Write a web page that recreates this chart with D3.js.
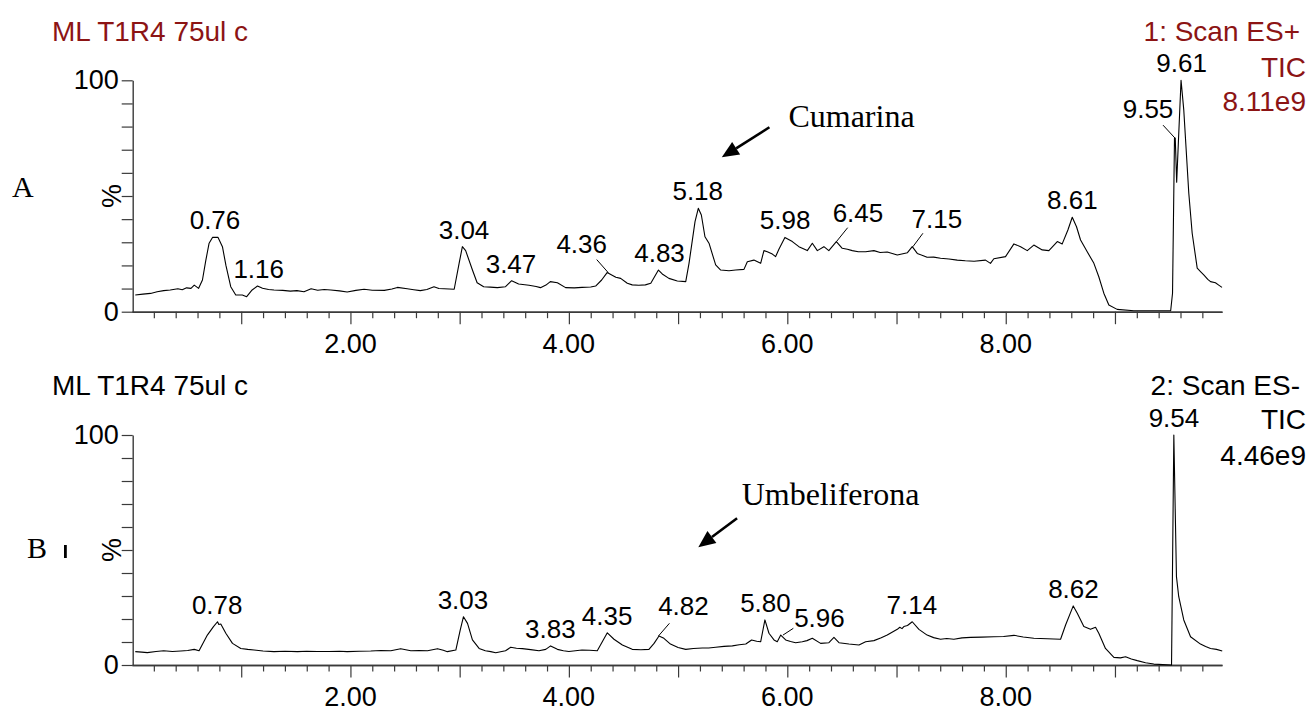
<!DOCTYPE html>
<html>
<head>
<meta charset="utf-8">
<script src="https://cdn.jsdelivr.net/npm/d3@7/dist/d3.min.js"></script>
<style>
  body { margin: 0; background: #fff; }
  svg { display: block; font-family: "Liberation Sans", Arial, sans-serif; }
</style>
</head>
<body>
<div id="chart"></div>
<script>
const width = 1310;
const height = 711;
const red = "#8c1414";

// axis values
const xMajor = [1, 2, 3, 4, 5, 6, 7, 8, 9];
const xMinor = [0.2,0.4,0.6,0.8,1.2,1.4,1.6,1.8,2.2,2.4,2.6,2.8,3.2,3.4,3.6,3.8,4.2,4.4,4.6,4.8,
                5.2,5.4,5.6,5.8,6.2,6.4,6.6,6.8,7.2,7.4,7.6,7.8,8.2,8.4,8.6,8.8,9.2,9.4,9.6,9.8];
const xTickLabels = [2, 4, 6, 8];
const yTicks = [0, 10, 20, 30, 40, 50, 60, 70, 80, 90, 100];

// chromatogram A (ES+), [time min, %]
const traceA = [
  [0.03,7.2],[0.10,7.6],[0.17,7.9],[0.23,8.6],[0.29,9.1],[0.35,9.4],[0.42,9.9],[0.46,9.5],[0.50,10.3],
  [0.54,10.1],[0.57,11.5],[0.61,10.1],[0.645,13.7],[0.675,22],[0.706,29.6],[0.737,32.1],[0.788,32.1],
  [0.828,28.1],[0.86,20],[0.904,10.8],[0.95,7.2],[1.01,7.2],[1.05,6.5],[1.10,9.4],[1.149,11.1],
  [1.195,10.1],[1.25,9.6],[1.30,9.4],[1.38,9.2],[1.45,8.9],[1.51,9.1],[1.575,8.6],[1.64,9.9],[1.70,9.3],
  [1.76,9.6],[1.82,9.4],[1.90,9.0],[1.97,8.5],[2.05,9.2],[2.125,9.7],[2.20,9.3],[2.31,9.2],[2.38,9.8],
  [2.43,10.5],[2.52,9.9],[2.58,9.5],[2.64,9.1],[2.70,9.6],[2.765,10.8],[2.81,10.0],[2.857,9.9],[2.95,9.7],
  [2.995,20.9],[3.025,28.1],[3.055,26.4],[3.117,18.0],[3.16,12.5],[3.22,10.8],[3.28,10.6],[3.345,10.4],
  [3.42,10.8],[3.476,13.4],[3.54,12.0],[3.635,11.4],[3.70,10.9],[3.74,10.4],[3.79,11.5],[3.83,13.0],
  [3.895,12.5],[3.97,10.4],[4.05,10.3],[4.12,10.5],[4.20,10.7],[4.245,11.1],[4.30,13.7],[4.35,16.9],
  [4.43,14.9],[4.474,14.4],[4.535,12.3],[4.58,11.6],[4.64,11.4],[4.70,11.6],[4.75,12.3],[4.82,18.0],
  [4.855,16.3],[4.916,14.4],[4.993,13.3],[5.07,13.0],[5.10,20.9],[5.155,38.9],[5.185,44.7],[5.213,41.8],
  [5.246,32.4],[5.283,29.6],[5.344,20.2],[5.39,18.0],[5.466,17.7],[5.527,18.0],[5.603,18.3],[5.634,21.6],
  [5.694,22.3],[5.756,20.9],[5.786,26.4],[5.817,25.9],[5.863,24.9],[5.893,23.8],[5.923,27.0],[5.978,32.1],
  [6.046,30.3],[6.106,28.1],[6.183,26.4],[6.229,29.6],[6.275,26.4],[6.335,28.1],[6.38,26.4],[6.449,30.3],
  [6.503,27.4],[6.55,27.0],[6.595,26.4],[6.65,25.9],[6.717,25.9],[6.793,26.4],[6.85,25.6],[6.915,25.8],
  [7.007,24.5],[7.10,25.5],[7.144,28.1],[7.19,25.2],[7.28,23.5],[7.34,23.6],[7.403,23.1],[7.48,22.8],
  [7.556,22.3],[7.63,22.0],[7.71,21.8],[7.815,22.3],[7.86,20.9],[7.891,22.9],[7.998,23.8],[8.075,29.3],
  [8.136,28.1],[8.197,26.4],[8.257,28.8],[8.334,26.7],[8.395,26.4],[8.472,30.3],[8.517,29.3],[8.569,35.3],
  [8.609,40.8],[8.648,36.7],[8.685,31.0],[8.746,25.9],[8.807,20.9],[8.852,15.1],[8.898,8.0],[8.944,2.9],
  [9.02,1.0],[9.173,0.4],[9.51,0.4],[9.527,8],[9.545,75],[9.552,75],[9.565,56],[9.605,100],[9.63,87.2],
  [9.676,51.2],[9.707,33.9],[9.753,18.8],[9.79,17.0],[9.813,15.9],[9.85,14.0],[9.875,13.0],[9.92,12.5],
  [9.95,11.5],[9.98,10.5]
];

// chromatogram B (ES-), [time min, %]
const traceB = [
  [0.03,5.8],[0.09,5.6],[0.14,5.4],[0.22,5.9],[0.29,6.2],[0.37,5.9],[0.447,6.1],[0.51,6.3],[0.57,6.8],
  [0.614,6.2],[0.65,9.5],[0.69,13.0],[0.746,16.7],[0.783,18.8],[0.795,17.6],[0.813,17.8],[0.859,13.8],
  [0.92,9.4],[0.996,7.2],[1.06,6.8],[1.118,6.5],[1.20,6.1],[1.30,5.8],[1.40,6.0],[1.515,5.8],[1.60,6.0],
  [1.70,5.9],[1.80,5.9],[1.90,6.0],[1.97,5.8],[2.08,6.0],[2.186,6.1],[2.28,6.3],[2.37,6.2],[2.46,7.1],
  [2.553,6.2],[2.63,6.3],[2.706,6.2],[2.797,7.1],[2.85,6.4],[2.888,5.8],[2.965,6.5],[3.005,15.2],
  [3.035,21.0],[3.072,18.1],[3.117,10.9],[3.178,7.2],[3.235,6.2],[3.285,5.8],[3.33,5.3],[3.42,6.2],
  [3.467,7.7],[3.52,7.3],[3.574,7.1],[3.65,6.7],[3.726,6.2],[3.788,6.8],[3.833,8.3],[3.895,6.8],[3.95,6.2],
  [4.0,5.9],[4.06,6.2],[4.12,6.5],[4.19,6.4],[4.26,6.2],[4.306,10.1],[4.352,14.0],[4.413,11.2],[4.49,8.7],
  [4.58,6.8],[4.66,6.6],[4.733,6.8],[4.78,9.4],[4.825,12.6],[4.87,11.6],[4.93,9.1],[5.0,7.6],[5.07,6.8],
  [5.14,7.2],[5.222,7.4],[5.28,7.4],[5.344,7.7],[5.42,8.1],[5.497,8.3],[5.56,8.8],[5.62,9.1],[5.673,10.9],
  [5.72,10.3],[5.756,10.1],[5.795,19.6],[5.832,13.8],[5.878,10.9],[5.908,10.1],[5.94,13.0],[5.985,10.9],
  [6.03,10.2],[6.076,9.7],[6.137,10.1],[6.18,10.6],[6.229,11.6],[6.305,9.4],[6.381,9.7],[6.427,12.0],
  [6.473,9.7],[6.564,9.1],[6.656,8.7],[6.717,10.1],[6.793,10.6],[6.86,11.8],[6.915,13.0],[7.007,15.5],
  [7.03,16.4],[7.05,15.8],[7.067,16.7],[7.10,17.2],[7.144,18.8],[7.205,15.5],[7.28,13.0],[7.34,11.9],
  [7.403,11.2],[7.46,11.5],[7.525,11.2],[7.60,11.8],[7.678,12.0],[7.78,12.1],[7.891,12.3],[7.98,12.4],
  [8.075,12.9],[8.16,12.2],[8.257,11.6],[8.38,11.4],[8.502,11.2],[8.548,17.4],[8.618,25.7],[8.655,22.5],
  [8.715,16.7],[8.776,15.5],[8.822,16.4],[8.852,13.8],[8.913,7.2],[8.99,3.3],[9.05,3.1],[9.097,3.6],
  [9.15,2.6],[9.204,1.9],[9.28,1.0],[9.356,0.4],[9.518,0],[9.539,100],[9.563,38.4],[9.584,29.7],
  [9.63,19.6],[9.692,12.3],[9.783,9.1],[9.83,8.0],[9.875,7.2],[9.93,6.8],[9.982,6.1]
];

// labelled retention times
const peaksA = [0.76, 1.16, 3.04, 3.47, 4.36, 4.83, 5.18, 5.98, 6.45, 7.15, 8.61, 9.55, 9.61];
const peaksB = [0.78, 3.03, 3.83, 4.35, 4.82, 5.80, 5.96, 7.14, 8.62, 9.54];

// header texts
const titleText = "ML T1R4 75ul c";
const scanA = ["1: Scan ES+", "TIC", "8.11e9"];
const scanB = ["2: Scan ES-", "TIC", "4.46e9"];

// compound annotations: [text, text t, text %, arrow start t, start %, tip t, tip %]
const noteA = ["Cumarina", 6.01, 79.7, 5.836, 79.7, 5.40, 66.7];
const noteB = ["Umbeliferona", 5.582, 69.6, 5.54, 63.8, 5.185, 51.2];

// labels that sit off the peak with a leader line (pixel offsets)
const leaders = {
  "A4.36": {lx: -26.5, ly: -20, ex: -11.5, ey: -13},
  "A6.45": {lx: 21.5, ly: -19.6, ex: 11.2, ey: -13.9},
  "A7.15": {lx: 24, ly: -19, ex: 10, ey: -13.4},
  "A9.55": {lx: -27, ly: -20, ex: -12, ey: -13},
  "B4.82": {lx: 25, ly: -21, ex: 11, ey: -12.7},
  "B5.96": {lx: 36.5, ly: -8.4, ex: 10.4, ey: -6.8}
};

const svg = d3.select("#chart")
  .append("svg")
  .attr("width", width)
  .attr("height", height);

const x = d3.scaleLinear().domain([0, 9.98]).range([132, 1222]);

const panels = [
  {id: "A", trace: traceA, peaks: peaksA, top: 80.3, bottom: 311.7, note: noteA,
   scan: scanA, color: red, headY: [41, 77, 111], letterX: 12, letterY: 197},
  {id: "B", trace: traceB, peaks: peaksB, top: 435, bottom: 665, note: noteB,
   scan: scanB, color: "#000", headY: [395, 428.5, 465], letterX: 27, letterY: 558}
];

panels.forEach(p => {
  const y = d3.scaleLinear().domain([0, 100]).range([p.bottom, p.top]);
  const g = svg.append("g");

  // x axis: minor, major ticks and labels
  const axisStyle = sel => {
    sel.select(".domain").attr("stroke", "#3a3a3a").attr("stroke-width", 1.4);
    sel.selectAll(".tick line").attr("stroke", "#3a3a3a").attr("stroke-width", 1.2);
  };
  g.append("g")
    .attr("transform", `translate(0,${p.bottom})`)
    .call(d3.axisBottom(x).tickValues(xMinor).tickSize(6.5).tickSizeOuter(0).tickFormat(""))
    .call(axisStyle);
  g.append("g")
    .attr("transform", `translate(0,${p.bottom})`)
    .call(d3.axisBottom(x).tickValues(xMajor).tickSize(12.5).tickSizeOuter(0).tickFormat(""))
    .call(axisStyle);
  g.selectAll(".xlab")
    .data(xTickLabels)
    .join("text")
    .attr("x", d => x(d))
    .attr("y", p.bottom + 41)
    .attr("text-anchor", "middle")
    .attr("font-size", 27)
    .text(d => d.toFixed(2));

  // y axis
  const ya = g.append("g")
    .attr("transform", `translate(${x(0) + 0.7},0)`)
    .call(d3.axisLeft(y).tickValues(yTicks).tickSize(11).tickSizeOuter(0).tickPadding(3)
      .tickFormat(d => (d === 0 || d === 100) ? d : ""))
    .call(axisStyle);
  ya.selectAll("text")
    .attr("font-size", 27)
    .attr("font-family", "Liberation Sans, Arial, sans-serif")
    .attr("fill", "#000");

  g.append("text")
    .attr("transform", `translate(121,${y(50)}) rotate(-90)`)
    .attr("text-anchor", "middle")
    .attr("font-size", 27)
    .text("%");

  // trace
  g.append("path")
    .datum(p.trace)
    .attr("fill", "none")
    .attr("stroke", "#000")
    .attr("stroke-width", 1.1)
    .attr("stroke-linejoin", "round")
    .attr("d", d3.line().x(d => x(d[0])).y(d => y(d[1])));

  // peak labels
  p.peaks.forEach(t => {
    const near = p.trace.filter(d => Math.abs(d[0] - t) <= 0.04);
    const top = d3.max(near, d => d[1]);
    const px = x(t), py = y(top);
    const lead = leaders[p.id + t.toFixed(2)];
    if (lead) {
      g.append("line")
        .attr("x1", px).attr("y1", py)
        .attr("x2", px + lead.ex).attr("y2", py + lead.ey)
        .attr("stroke", "#000").attr("stroke-width", 1);
      g.append("text")
        .attr("x", px + lead.lx)
        .attr("y", py + lead.ly)
        .attr("text-anchor", "middle")
        .attr("font-size", 26)
        .text(t.toFixed(2));
    } else {
      g.append("text")
        .attr("x", px)
        .attr("y", py - 8)
        .attr("text-anchor", "middle")
        .attr("font-size", 26)
        .text(t.toFixed(2));
    }
  });

  // headers
  g.append("text")
    .attr("x", 52)
    .attr("y", p.headY[0])
    .attr("font-size", 28)
    .attr("fill", p.color)
    .text(titleText);
  p.scan.forEach((s, i) => {
    g.append("text")
      .attr("x", i === 0 ? 1300 : 1306)
      .attr("y", p.headY[i])
      .attr("text-anchor", "end")
      .attr("font-size", 28)
      .attr("fill", p.color)
      .text(s);
  });

  // panel letter
  g.append("text")
    .attr("x", p.letterX)
    .attr("y", p.letterY)
    .attr("font-family", "Liberation Serif, Times New Roman, serif")
    .attr("font-size", 30)
    .text(p.id);

  // compound annotation with arrow
  const [label, tx, ty, sx, sy, ex, ey] = p.note;
  g.append("text")
    .attr("x", x(tx))
    .attr("y", y(ty))
    .attr("font-family", "Liberation Serif, Times New Roman, serif")
    .attr("font-size", 32)
    .text(label);
  const x1 = x(sx), y1 = y(sy), x2 = x(ex), y2 = y(ey);
  const ang = Math.atan2(y2 - y1, x2 - x1);
  const hl = 17, hw = 7.5;
  const bx = x2 - hl * Math.cos(ang), by = y2 - hl * Math.sin(ang);
  g.append("line")
    .attr("x1", x1).attr("y1", y1)
    .attr("x2", bx).attr("y2", by)
    .attr("stroke", "#000").attr("stroke-width", 2.6);
  g.append("path")
    .attr("d", d3.line()([
      [x2, y2],
      [bx + hw * Math.sin(ang), by - hw * Math.cos(ang)],
      [bx - hw * Math.sin(ang), by + hw * Math.cos(ang)]
    ]) + "Z")
    .attr("fill", "#000");
});

// small mark next to the B letter
svg.append("rect")
  .attr("x", 64).attr("y", 545)
  .attr("width", 2.8).attr("height", 13)
  .attr("fill", "#000");
</script>
</body>
</html>
